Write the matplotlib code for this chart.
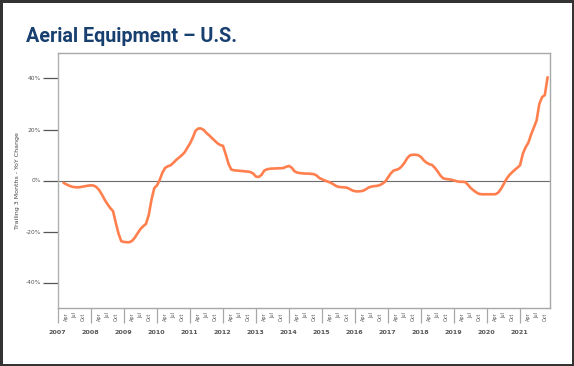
import numpy as np
import matplotlib
matplotlib.use("Agg")
import matplotlib.pyplot as plt
import matplotlib.transforms as mtransforms

# trailing 3-month YoY change (%), monthly from Mar 2007 to Nov 2021
values = [
    -0.9, -1.5, -2.0, -2.4, -2.6, -2.7, -2.6, -2.4, -2.2, -2.0,          # 2007 Mar-Dec
    -1.9, -2.0, -2.6, -3.8, -5.6, -7.6, -9.3, -10.8, -12.0, -16.5, -20.8, -23.8,  # 2008
    -24.1, -24.2, -24.2, -23.6, -22.3, -20.6, -19.0, -17.9, -17.0, -13.5, -7.5, -3.0,  # 2009
    -1.9, 0.3, 3.2, 5.0, 5.6, 6.0, 7.0, 8.1, 9.0, 9.9, 11.0, 12.8,       # 2010
    14.5, 16.8, 19.5, 20.4, 20.4, 19.8, 18.6, 17.7, 16.6, 15.6, 14.6, 13.9,  # 2011
    13.6, 10.2, 6.5, 4.3, 4.0, 3.9, 3.8, 3.7, 3.6, 3.5, 3.3, 2.7,        # 2012
    1.5, 1.4, 2.2, 3.9, 4.4, 4.6, 4.7, 4.7, 4.8, 4.8, 4.9, 5.4,          # 2013
    5.7, 5.0, 3.6, 3.1, 2.9, 2.8, 2.7, 2.7, 2.6, 2.5, 2.0, 1.0,          # 2014
    0.5, 0.0, -0.4, -0.8, -1.4, -2.1, -2.5, -2.6, -2.7, -2.8, -3.3, -3.9,  # 2015
    -4.2, -4.3, -4.2, -4.0, -3.4, -2.7, -2.4, -2.2, -2.1, -1.8, -1.2, -0.4,  # 2016
    1.2, 2.8, 3.9, 4.2, 4.6, 5.6, 7.0, 8.8, 9.9, 10.1, 10.1, 9.9,        # 2017
    9.2, 7.9, 7.0, 6.4, 6.1, 5.0, 3.6, 2.0, 0.9, 0.6, 0.5, 0.3,          # 2018
    0.0, -0.3, -0.5, -0.5, -0.6, -1.6, -2.9, -3.8, -4.6, -5.2, -5.4, -5.4,  # 2019
    -5.4, -5.4, -5.4, -5.4, -4.8, -3.4, -1.5, 0.5, 2.0, 3.1, 4.1, 5.0,   # 2020
    6.0, 10.5, 13.0, 14.8, 18.0, 20.8, 23.5, 30.0, 32.7, 33.5, 40.5,     # 2021 Jan-Nov
]
start_month = 2  # Mar 2007, months counted from Jan 2007
years = list(range(2007, 2022))
month_labels = ["Apr", "Jul", "Oct"]
y_ticks = [-40, -20, 0, 20, 40]

months = np.arange(start_month, start_month + len(values))

W, H = 574, 366
fig = plt.figure(figsize=(W / 100, H / 100), dpi=100,
                 facecolor="white", edgecolor="#333333", linewidth=2.2)

ax = fig.add_axes([58 / W, 1 - 308 / H, 491.5 / W, 255 / H])
ax.plot(months, values, color="#FF7F4E", linewidth=1.9, solid_capstyle="round",
        zorder=3)
ax.axhline(0, color="#6b6b6b", linewidth=0.8, zorder=2)

ax.set_xlim(0, 178.7)
ax.set_ylim(-50, 50)

for s in ["top", "right", "bottom"]:
    ax.spines[s].set_color("#a8a8a8")
    ax.spines[s].set_linewidth(1.0)
ax.spines["left"].set_color("#b0b0b0")
ax.spines["left"].set_linewidth(1.0)

ax.set_yticks(y_ticks)
ax.set_yticklabels([f"{v}%" for v in y_ticks])
ax.tick_params(axis="y", length=10.5, width=0.9, color="#555555", pad=1.5,
               labelsize=4.3, labelcolor="#555555")
ax.set_ylabel("Trailing 3 Months - YoY Change", fontsize=4.5, color="#444444",
              labelpad=4)

# year separators as major ticks, month names as minor tick labels
year_pos = [12 * (y - 2007) for y in years]
ax.set_xticks(year_pos)
ax.set_xticklabels([])
ax.tick_params(axis="x", which="major", length=11, width=0.9, color="#a8a8a8")
minor_pos = []
minor_lab = []
for y in years:
    for k, lab in zip([3, 6, 9], month_labels):
        minor_pos.append(12 * (y - 2007) + k)
        minor_lab.append(lab)
ax.set_xticks(minor_pos, minor=True)
ax.set_xticklabels(minor_lab, minor=True, rotation=90, fontsize=3.5,
                   color="#555555")
ax.tick_params(axis="x", which="minor", length=0, pad=3)

trans = mtransforms.blended_transform_factory(ax.transData, fig.transFigure)
for y, p in zip(years, year_pos):
    ax.text(p - 0.4, 1 - 333 / H, str(y), transform=trans, ha="center",
            va="center", fontsize=4.6, color="#555555", fontweight="bold")

fig.text(26 / W, 1 - 42 / H, "Aerial Equipment \u2013 U.S.", fontsize=14.2,
         fontweight="bold", family="Roboto", color="#173F6F", va="baseline")

fig.savefig("out.png", dpi=100)
